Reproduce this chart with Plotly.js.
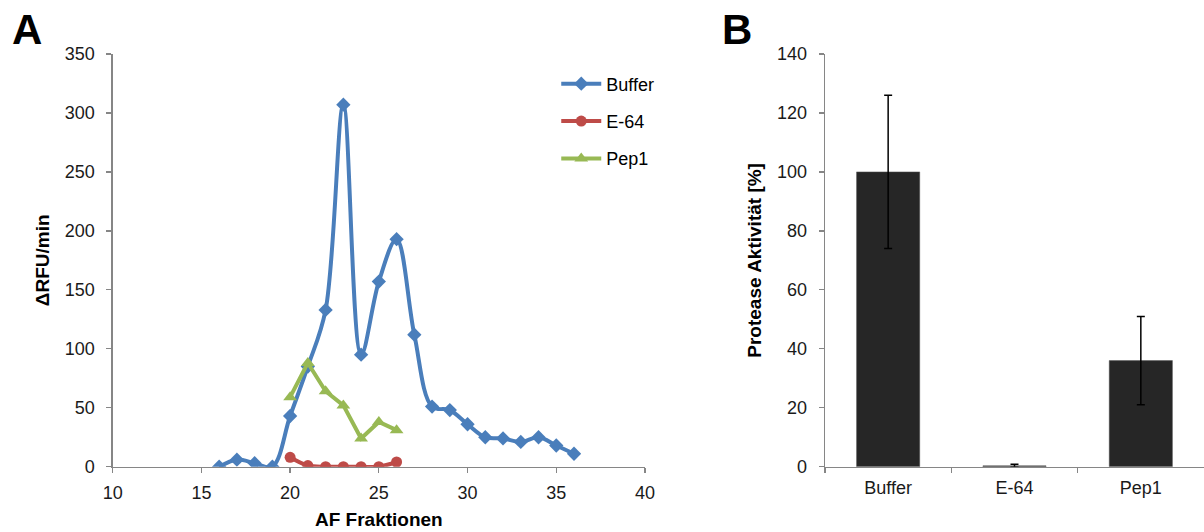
<!DOCTYPE html>
<html>
<head>
<meta charset="utf-8">
<script src="https://cdn.plot.ly/plotly-3.0.1.min.js"></script>
<style>html,body{margin:0;padding:0;background:#fff;}#chart{width:1204px;height:532px;}</style>
</head>
<body>
<div id="chart"></div>
<script>
// Panel A data
const bufferX = [16,17,18,19,20,21,22,23,24,25,26,27,28,29,30,31,32,33,34,35,36];
const bufferY = [0,6,3,0,43,85,133,307,95,157,193,112,51,48,36,25,24,21,25,18,11];
const e64X = [20,21,22,23,24,25,26];
const e64Y = [8,1,0,0,0,0,4];
const pep1X = [20,21,22,23,24,25,26];
const pep1Y = [59,88,64,52,24,38,31];
// Panel B data
const barCats = ['Buffer','E-64','Pep1'];
const barVals = [100,0.3,36];
const barErr = [26,0.5,15];

const font = 'Liberation Sans, Arial, sans-serif';
const tickFont = {family: font, size: 18, color: '#1a1a1a'};
const titleFont = {family: font, size: 19, color: '#000', weight: 'bold'};
const axisGray = '#868686';

const traces = [
  {x: bufferX, y: bufferY, name: 'Buffer', type: 'scatter', mode: 'lines+markers',
   line: {color: '#4a7ebb', width: 4, shape: 'spline', smoothing: 1},
   marker: {symbol: 'diamond', size: 11, color: '#4a7ebb'}, legendgroup: 'a', xaxis: 'x', yaxis: 'y'},
  {x: e64X, y: e64Y, name: 'E-64', type: 'scatter', mode: 'lines+markers',
   line: {color: '#be4b48', width: 4, shape: 'spline', smoothing: 1},
   marker: {symbol: 'circle', size: 11, color: '#be4b48'}, legendgroup: 'b', xaxis: 'x', yaxis: 'y'},
  {x: pep1X, y: pep1Y, name: 'Pep1', type: 'scatter', mode: 'lines+markers',
   line: {color: '#98b954', width: 4},
   marker: {symbol: 'triangle-up', size: 12, color: '#98b954'}, legendgroup: 'c', xaxis: 'x', yaxis: 'y'},
  {x: barCats, y: barVals, type: 'bar', showlegend: false, xaxis: 'x2', yaxis: 'y2', width: 0.5,
   marker: {color: '#262626', line: {color: '#555', width: 0.5}},
   error_y: {type: 'data', array: barErr, visible: true, color: '#000', thickness: 1.5, width: 4}}
];

const commonAxis = {
  showgrid: false, zeroline: false, showline: true, linecolor: axisGray, linewidth: 1.3,
  ticks: 'outside', ticklen: 5, tickcolor: axisGray, tickwidth: 1.3, tickfont: tickFont
};

const layout = {
  width: 1204, height: 532,
  margin: {l: 0, r: 0, t: 0, b: 0},
  paper_bgcolor: '#fff', plot_bgcolor: '#fff',
  font: {family: font},
  showlegend: true,
  legend: {x: 0.462, y: 0.877, xanchor: 'left', yanchor: 'top', font: {family: font, size: 18, color: '#000'},
           tracegroupgap: 11, traceorder: 'grouped', bgcolor: 'rgba(0,0,0,0)', itemwidth: 40},
  xaxis: Object.assign({}, commonAxis, {domain: [0.0936, 0.5357], range: [10, 40], dtick: 5, anchor: 'y',
    ticklabelstandoff: 4,
    title: {text: 'AF Fraktionen', font: titleFont, standoff: 11}}),
  yaxis: Object.assign({}, commonAxis, {domain: [0.1227, 0.8985], range: [0, 350], dtick: 50, anchor: 'x',
    ticklabelstandoff: 8,
    title: {text: 'ΔRFU/min', font: titleFont, standoff: 10}}),
  xaxis2: Object.assign({}, commonAxis, {domain: [0.6852, 1.0], anchor: 'y2', type: 'category',
    tickson: 'boundaries', ticklabelstandoff: 4}),
  yaxis2: Object.assign({}, commonAxis, {domain: [0.1227, 0.8985], range: [0, 140], dtick: 20, anchor: 'x2',
    ticklabelstandoff: 8,
    title: {text: 'Protease Aktivität [%]', font: titleFont, standoff: 10}}),
  annotations: [
    {text: 'A', x: 10 / 1204, y: 1, xref: 'paper', yref: 'paper', showarrow: false, xanchor: 'left', yanchor: 'top',
     yshift: -4, font: {family: font, size: 42, color: '#000', weight: 'bold'}},
    {text: 'B', x: 720 / 1204, y: 1, xref: 'paper', yref: 'paper', showarrow: false, xanchor: 'left', yanchor: 'top',
     yshift: -4, font: {family: font, size: 42, color: '#000', weight: 'bold'}}
  ]
};

Plotly.newPlot('chart', traces, layout, {staticPlot: true, displayModeBar: false});
</script>
</body>
</html>
